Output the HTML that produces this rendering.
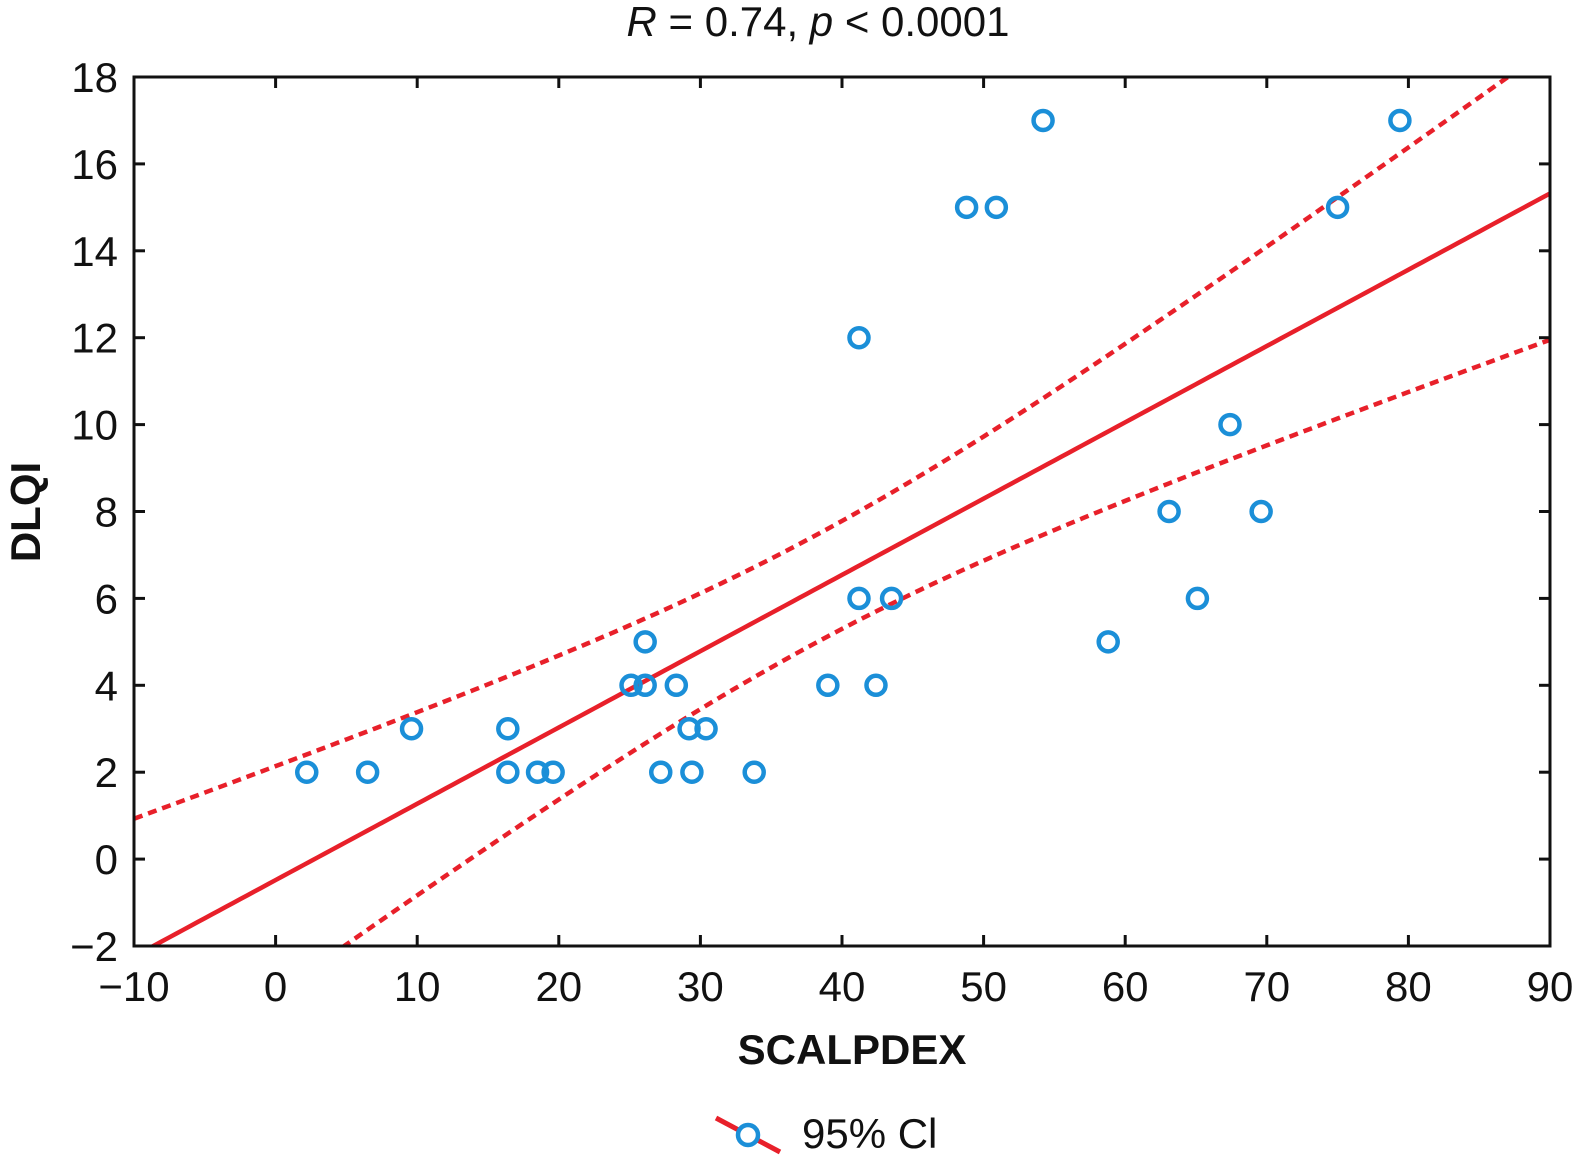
<!DOCTYPE html>
<html><head><meta charset="utf-8"><style>
html,body{margin:0;padding:0;background:#fff;width:1572px;height:1160px;overflow:hidden}
svg text{font-family:"Liberation Sans",sans-serif;fill:#111}
</style></head><body>
<svg id="chart" width="1572" height="1160" viewBox="0 0 1572 1160" xmlns="http://www.w3.org/2000/svg">
<defs><clipPath id="clip"><rect x="134" y="77" width="1416" height="869"/></clipPath></defs>
<text x="818" y="36" font-size="42" text-anchor="middle"><tspan font-style="italic">R</tspan> = 0.74, <tspan font-style="italic">p</tspan> &lt; 0.0001</text>
<g id="marks" clip-path="url(#clip)"></g>
<g id="axes"></g>
<text x="852" y="1064" font-size="42" font-weight="bold" text-anchor="middle">SCALPDEX</text>
<text transform="translate(40,512) rotate(-90)" font-size="42" font-weight="bold" text-anchor="middle">DLQI</text>
<g>
<line x1="716" y1="1118" x2="780" y2="1152" stroke="#e8202a" stroke-width="5"/>
<circle cx="748" cy="1135" r="10" fill="#fff" stroke="#1b8fd8" stroke-width="4.5"/>
<text x="802" y="1148" font-size="42">95% Cl</text>
</g>
</svg>
<script>
const xs = [2.2,6.5,9.6,16.4,16.4,18.5,19.6,25.1,26.1,26.1,28.3,27.2,29.2,30.4,29.4,33.8,39,41.2,41.2,42.4,43.5,48.8,50.9,54.2,58.8,63.1,65.1,67.4,69.6,75,79.4];
const ys = [2,2,3,3,2,2,2,4,5,4,4,2,3,3,2,2,4,6,12,4,6,15,15,17,5,8,6,10,8,15,17];
const xTicks = [-10,0,10,20,30,40,50,60,70,80,90];
const yTicks = [-2,0,2,4,6,8,10,12,14,16,18];
const xTickLabels = ["\u221210","0","10","20","30","40","50","60","70","80","90"];
const yTickLabels = ["\u22122","0","2","4","6","8","10","12","14","16","18"];

const L=134,R=1550,T=77,B=946;
const sx=v=>L+(v+10)/100*(R-L);
const sy=v=>B-(v+2)/20*(B-T);
const NS="http://www.w3.org/2000/svg";
const mk=(tag,attrs,parent)=>{const e=document.createElementNS(NS,tag);for(const k in attrs)e.setAttribute(k,attrs[k]);parent.appendChild(e);return e;};
const marks=document.getElementById('marks'), axes=document.getElementById('axes');

// regression
const n=xs.length;
const mx=xs.reduce((a,b)=>a+b,0)/n, my=ys.reduce((a,b)=>a+b,0)/n;
let sxx=0,sxy=0;for(let i=0;i<n;i++){sxx+=(xs[i]-mx)**2;sxy+=(xs[i]-mx)*(ys[i]-my);}
const b=sxy/sxx,a=my-b*mx;
let sse=0;for(let i=0;i<n;i++)sse+=(ys[i]-a-b*xs[i])**2;
const s=Math.sqrt(sse/(n-2)), tc=2.045;
let fit=[],up=[],lo=[];
for(let x=-10;x<=90.001;x+=0.5){const yh=a+b*x;const h=tc*s*Math.sqrt(1/n+(x-mx)**2/sxx);
fit.push(sx(x)+','+sy(yh));up.push(sx(x)+','+sy(yh+h));lo.push(sx(x)+','+sy(yh-h));}
let el;
el=mk('polyline',{points:up.join(' '),fill:'none',stroke:'#e8202a','stroke-width':4.5,'stroke-dasharray':'9 6'},marks);


el=mk('polyline',{points:lo.join(' '),fill:'none',stroke:'#e8202a','stroke-width':4.5,'stroke-dasharray':'9 6'},marks);


el=mk('polyline',{points:fit.join(' '),fill:'none',stroke:'#e8202a','stroke-width':4.5},marks);


for(let i=0;i<n;i++){
  el=mk('circle',{cx:sx(xs[i]),cy:sy(ys[i]),r:9.5,fill:'none',stroke:'#1b8fd8','stroke-width':4.5},marks);
  
  
}
// frame
el=mk('rect',{x:L,y:T,width:R-L,height:B-T,fill:'none',stroke:'#111','stroke-width':3},axes);


xTicks.forEach((v,i)=>{
  const x=sx(v);
  mk('line',{x1:x,y1:B,x2:x,y2:B-11,stroke:'#111','stroke-width':3},axes);
  mk('line',{x1:x,y1:T,x2:x,y2:T+11,stroke:'#111','stroke-width':3},axes);
  el=mk('text',{x:x,y:1001,'font-size':42,'text-anchor':'middle'},axes);
  el.textContent=xTickLabels[i];
  
  
});
yTicks.forEach((v,i)=>{
  const y=sy(v);
  mk('line',{x1:L,y1:y,x2:L+11,y2:y,stroke:'#111','stroke-width':3},axes);
  mk('line',{x1:R,y1:y,x2:R-11,y2:y,stroke:'#111','stroke-width':3},axes);
  el=mk('text',{x:118,y:y+15,'font-size':42,'text-anchor':'end'},axes);
  el.textContent=yTickLabels[i];
  
  
});
</script>
</body></html>
